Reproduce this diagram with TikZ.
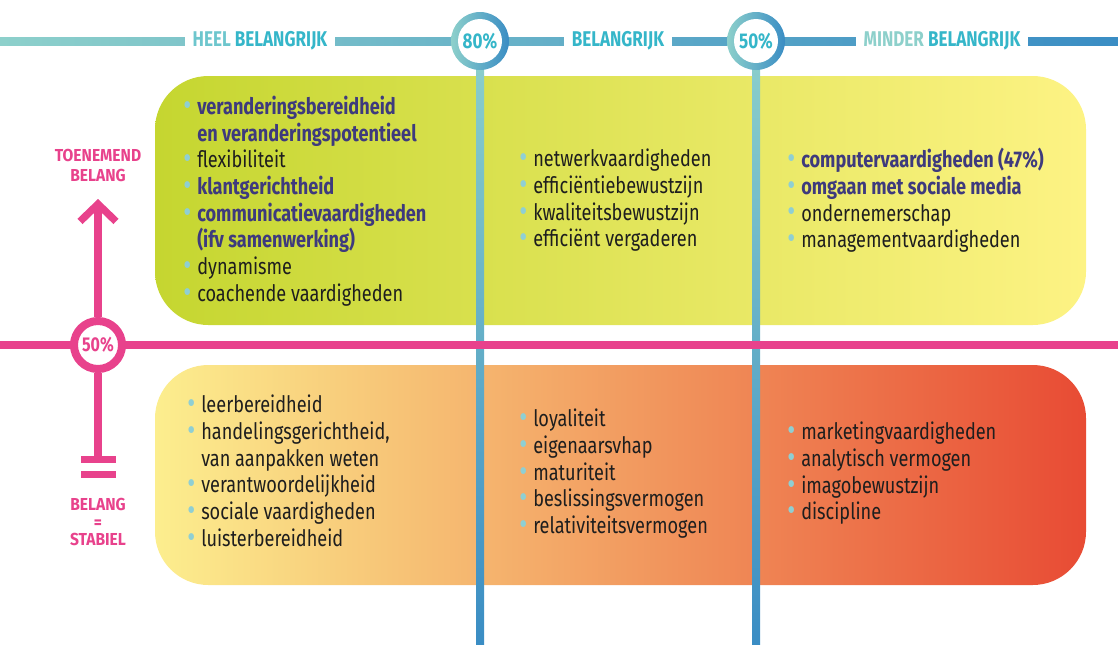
\documentclass[tikz,border=0pt]{standalone}
\usepackage{fontspec}
\setmainfont{Fira Sans}[FakeStretch=0.8]
\newfontfamily\sidefont{Fira Sans}[FakeStretch=0.9]
\usepackage{xcolor}
\usetikzlibrary{arrows.meta}

\definecolor{tealL}{HTML}{8DD0CB}
\definecolor{tealM}{HTML}{35B6C9}
\definecolor{tealT}{HTML}{6DC6CD}
\definecolor{blueD}{HTML}{3A8DC4}
\definecolor{pinkc}{HTML}{E8428C}
\definecolor{purp}{HTML}{3E3A7D}
\definecolor{dotc}{HTML}{8FCFD3}
\definecolor{ink}{HTML}{1E1E1E}
\definecolor{greenL}{HTML}{C5D630}
\definecolor{yellowR}{HTML}{FDF384}
\definecolor{yellowL}{HTML}{FCEE8E}
\definecolor{orangeM}{HTML}{F6A35C}
\definecolor{redR}{HTML}{E84B34}

\newcommand{\itm}{\makebox[10.5pt][l]{\textcolor{dotc}{\raisebox{-0.6pt}{\scalebox{1.35}{•}}}}}
\newcommand{\ind}{\hspace*{10.5pt}}
\newcommand{\bld}[1]{\textcolor{purp}{\bfseries #1}}

\tikzset{
  items/.style={inner sep=0pt, align=left, text=ink,
    font=\fontsize{17}{20}\selectfont},
  head/.style={fill=white, inner xsep=5.5pt, inner ysep=2pt,
    font=\fontsize{16}{16}\selectfont\bfseries},
  pct/.style={circle, fill=white, inner sep=0pt, minimum size=33pt,
    font=\fontsize{16}{16}\selectfont\bfseries},
  axis/.style={pinkc, line width=5.5pt},
  side/.style={text=pinkc, align=center, inner sep=0pt,
    font=\sidefont\fontsize{13}{15}\selectfont\bfseries}
}

\begin{document}
\begin{tikzpicture}[x=0.75pt,y=-0.75pt]
\useasboundingbox (0,0) rectangle (1118,644);

% top scale bar
\shade[left color=tealL, middle color=tealM, right color=blueD] (0,37) rectangle (1118,45);

% the two fields
\shade[left color=greenL, right color=yellowR, rounded corners=40pt] (155,76) rectangle (1086,325);
\shade[left color=yellowL, middle color=orangeM, right color=redR, rounded corners=40pt] (155,365) rectangle (1086,585);

% vertical borders
\shade[top color=tealL, middle color=tealM, bottom color=blueD] (476,41) rectangle (484,644);
\shade[top color=tealL, middle color=tealM, bottom color=blueD] (752,41) rectangle (760,644);

% headings on the bar
\node[head] (heel) at (260,41) {\textcolor{tealT}{HEEL} \textcolor{tealM}{BELANGRIJK}};
\node[head] (bel) at (618,41) {\textcolor{tealM}{BELANGRIJK}};
\node[head] (minder) at (942,41) {\textcolor{tealL}{MINDER} \textcolor{tealM}{BELANGRIJK}};

% percentage rings
\shade[left color=tealL, middle color=tealM, right color=blueD] (480,41) circle (29);
\node[pct, text=tealM] (p80) at (480,41) {80\%};
\shade[left color=tealL, middle color=tealM, right color=blueD] (756,41) circle (29);
\node[pct, text=tealM] (p50) at (756,41) {50\%};

% pink axis
\draw[axis] (0,345) -- (1118,345);
\node[circle, draw=pinkc, line width=6pt, fill=white, inner sep=0pt, minimum size=36pt,
  text=pinkc, font=\fontsize{15}{15}\selectfont\bfseries] (mid) at (98,345) {50\%};
\coordinate (up) at (98,199);
\coordinate (eq) at (98,459);
\draw[axis, -{Straight Barb[length=13pt, width=27pt]}] (mid.north) -- (up);
\draw[axis] (mid.south) -- (eq);
\fill[pinkc] (81,456) rectangle (116,463);
\fill[pinkc] (81,471) rectangle (116,478);
\node[side] (toen) at (98,165) {TOENEMEND\\BELANG};
\node[side, font=\sidefont\fontsize{13}{13}\selectfont\bfseries] (stab) at (98,522) {BELANG\\=\\STABIEL};

% items, upper field
\node[items, anchor=north west] (tl) at (183,96) {\itm\bld{veranderingsbereidheid}\\
  \ind\bld{en veranderingspotentieel}\\
  \itm flexibiliteit\\
  \itm\bld{klantgerichtheid}\\
  \itm\bld{communicatievaardigheden}\\
  \ind\bld{(ifv samenwerking)}\\
  \itm dynamisme\\
  \itm coachende vaardigheden};
\node[items, anchor=north west] (tm) at (519,149) {\itm netwerkvaardigheden\\
  \itm efficiëntiebewustzijn\\
  \itm kwaliteitsbewustzijn\\
  \itm efficiënt vergaderen};
\node[items, anchor=north west] (tr) at (787,148) {\itm\bld{computervaardigheden (47\%)}\\
  \itm\bld{omgaan met sociale media}\\
  \itm ondernemerschap\\
  \itm managementvaardigheden};

% items, lower field
\node[items, anchor=north west] (bl) at (187,395) {\itm leerbereidheid\\
  \itm handelingsgerichtheid,\\
  \ind van aanpakken weten\\
  \itm verantwoordelijkheid\\
  \itm sociale vaardigheden\\
  \itm luisterbereidheid};
\node[items, anchor=north west] (bm) at (519,409) {\itm loyaliteit\\
  \itm eigenaarsvhap\\
  \itm maturiteit\\
  \itm beslissingsvermogen\\
  \itm relativiteitsvermogen};
\node[items, anchor=north west] (br) at (787,422) {\itm marketingvaardigheden\\
  \itm analytisch vermogen\\
  \itm imagobewustzijn\\
  \itm discipline};
\end{tikzpicture}
\end{document}
